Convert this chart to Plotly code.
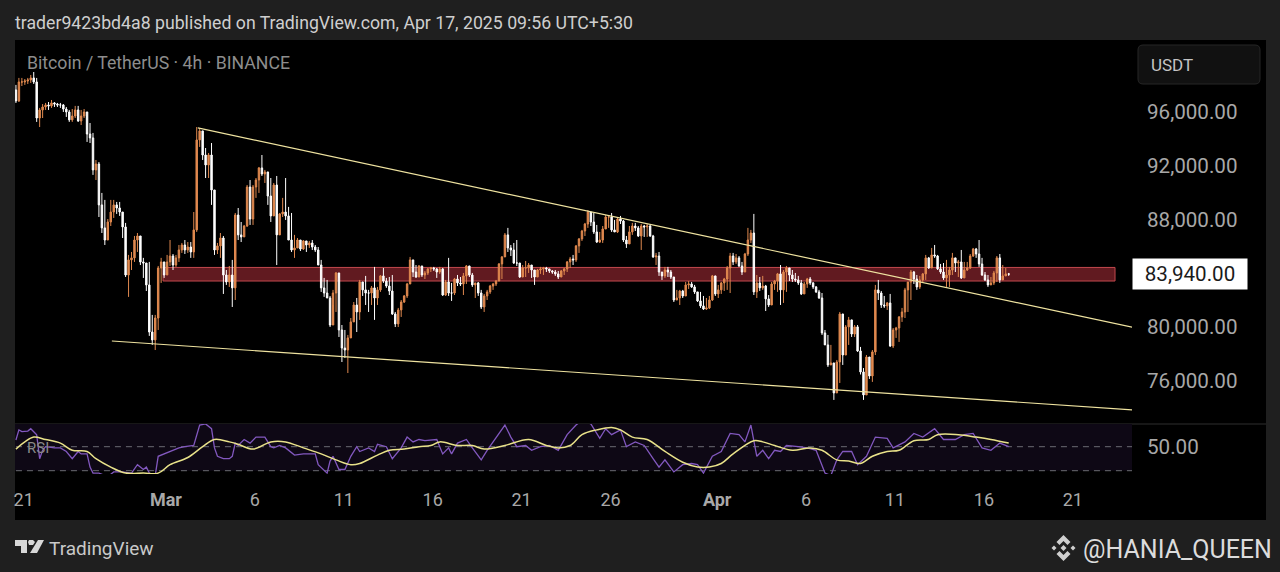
import pandas as pd
import plotly.graph_objects as go

W, H = 1280, 572

closes = [
    96820, 98230, 98230, 98300, 98380, 98530, 98230, 95550, 96150, 96370,
    96520, 96450, 96670, 96590, 96520, 96520, 96220, 96000, 95410, 95700,
    96150, 95330, 95700, 96000, 94360, 94070, 91690, 92130, 89090, 87380,
    86480, 87820, 88560, 89090, 88860, 88560, 87450, 83880, 85000, 85150,
    86480, 86780, 84850, 84770, 83140, 79640, 79050, 80680, 84400, 84850,
    83880, 84850, 85290, 84620, 85150, 85740, 86110, 85740,
    85960, 85590, 87230, 93920,
    94590, 92800, 92060, 92800, 90200, 85740, 86040, 86630, 83880, 83360,
    83880, 82920, 88340, 86860, 86710, 87520, 90420, 88040, 90420, 90940,
    91840, 91390, 91540, 89750, 88270, 90570, 86860, 88420, 88560, 88270,
    86480, 85740, 85890, 86480, 85810, 86410, 86110, 86260, 85960, 85740,
    84620, 82920, 82540, 82170, 80160, 82540, 84030, 79790, 78450, 78300,
    79200, 80390, 81650, 81130, 83360, 82770, 82540, 82540, 82920, 82170, 82770, 83810,
    83430, 83060, 82690, 80980, 80240, 81280, 81870, 82320, 83210, 85000,
    84100, 83730, 84550, 83880, 84030, 84330, 84400, 84330, 84100, 84330,
    82390, 83360, 82540, 82540, 83580, 83290, 83210, 83810, 84550, 83880,
    83140, 83290, 82540, 81500, 82320, 82620, 83060, 83210, 83430, 84700,
    85220, 86860, 85890, 85740, 84770, 84770, 83730, 84400, 84400, 84620,
    84250, 83730, 84250, 84330, 84400, 84330, 84180, 84100, 83960, 83730, 84180,
    84330, 84850, 85070, 85000, 86040, 86560, 87150, 87670, 88560, 87820,
    87080, 86330, 86480, 87300, 88190, 88190, 87230, 87080, 88040, 87890,
    86480, 86190, 87080, 87520, 87380, 86780, 87520, 87450, 87520, 86780,
    85220, 85290, 84100, 83810, 84250, 84100, 83730, 82020, 82170, 82690,
    82320, 83140, 83210, 82990, 82620, 81950, 81580, 81350, 81430, 82020,
    83810, 82470, 82770, 83290, 83580, 84400, 85290, 84850, 85150, 84550,
    84100, 85440, 86480, 87000, 82620, 83290, 82920, 83060, 82100, 81650,
    83210, 83430, 83960, 82770, 84100, 84400, 83880, 83580, 83510, 83290,
    82470, 83210, 83580, 83290, 82990, 82620, 82170, 79570, 78680, 77190,
    77340, 75110, 77410, 80980, 77930, 80020, 80540, 79490, 80020, 78230, 76670,
    74960, 77780, 76370, 78160, 82770, 82540, 81650, 81580, 81800, 78600,
    79790, 79940, 80760, 81130, 82770, 83360, 84100, 83580, 82990, 83510,
    83960, 85150, 84400, 85370, 85290, 84330, 84100, 83660, 83880, 84250,
    85150, 84770, 84850, 83660, 84250, 84400, 85290, 85810, 85440, 84700,
    83880, 83510, 83140, 83290, 84030, 85150, 83510, 83810, 83960, 83940,
]
highs = [
    98010, 98530, 98530, 98450, 98530, 98750, 98970, 98530, 96300, 96590,
    96670, 96740, 96890, 96740, 96670, 96670, 96590, 96370, 96150, 96220,
    96450, 96450, 96150, 96220, 96000, 95180, 94440, 92430, 92280, 89980,
    89460, 88040, 89460, 89460, 89310, 89310, 88560, 87750, 85370, 85590,
    86780, 87000, 86780, 85150, 84770, 84850, 80910, 80910, 84550, 85150,
    84850, 85370, 86480, 85440, 85370, 86110, 86260, 86480,
    86330, 86330, 88560, 94880,
    94810, 94440, 93320, 92950, 93690, 90200, 86260, 87000, 86780, 84250,
    84550, 85000, 88490, 88860, 87820, 87600, 90570, 90940, 90570, 91090,
    91910, 92800, 91690, 91460, 91090, 90720, 91240, 88490, 89610, 91090,
    88940, 88490, 86860, 86630, 86480, 86480, 86410, 86410, 86480, 86110,
    85960, 85000, 83660, 83510, 82320, 82770, 84100, 83660, 80160, 79790,
    79420, 80680, 81870, 82170, 83510, 83360, 83810, 82770, 83060, 84480, 82990, 83880,
    84400, 83660, 83730, 83880, 81130, 81430, 82020, 82390, 83290, 85220,
    84850, 84620, 84620, 84550, 84180, 84400, 84480, 84480, 84400, 84480,
    84400, 83510, 85150, 83290, 83660, 83880, 83730, 84030, 84620, 84480,
    84030, 83290, 83360, 82770, 82470, 82770, 83140, 83290, 83510, 84770,
    85290, 87000, 87380, 86110, 86260, 86480, 84770, 84620, 84920, 84770,
    84550, 84100, 84330, 84480, 84480, 84480, 84330, 84250, 84250, 84180, 84250,
    84400, 84920, 85220, 85370, 86110, 86630, 87230, 87750, 88710, 88490,
    88490, 87600, 87080, 87520, 88340, 88270, 88490, 87970, 88190, 88270,
    87970, 86780, 87520, 87750, 87750, 87520, 87670, 87600, 87670, 87600,
    86860, 85520, 85590, 84100, 84480, 84480, 84250, 83730, 82770, 82770,
    82770, 83360, 83430, 83360, 83140, 82620, 82620, 82320, 82170, 82320,
    83880, 83660, 83140, 83360, 83660, 84550, 85520, 85520, 85440, 85290,
    84850, 85520, 87380, 87230, 88420, 83880, 83730, 83810, 83140, 82390,
    83360, 83510, 84030, 84620, 84250, 84550, 84400, 84250, 84030, 83810,
    83510, 83360, 83660, 83730, 83360, 83060, 82770, 82540, 79790, 79420,
    78680, 77340, 77560, 81130, 79790, 80160, 80760, 80460, 80160, 80160, 78530,
    76960, 77930, 77780, 78300, 83140, 83510, 82690, 82320, 81870, 82470,
    79940, 80020, 80830, 81430, 82920, 83360, 84250, 84180, 83880, 83810,
    84030, 85370, 85220, 85890, 86110, 85370, 84700, 84770, 85000, 84480,
    85520, 85000, 85000, 85740, 84850, 84850, 85440, 85890, 85890, 86480,
    85150, 84100, 83880, 83730, 84180, 85290, 85440, 84620, 84400, 84030,
]
lows = [
    96670, 96740, 97930, 98010, 98080, 98160, 98080, 95260, 94880, 95550,
    96150, 96150, 96300, 96370, 96370, 96300, 96000, 95630, 95260, 95260,
    95550, 95260, 95030, 95550, 93770, 93690, 91320, 90940, 88190, 87000,
    86110, 86630, 87520, 88120, 88420, 88270, 86630, 83730, 82250, 84250,
    84850, 85590, 84620, 83660, 82690, 79350, 78680, 78300, 79790, 83290,
    83660, 84100, 84550, 84250, 84480, 84850, 85520, 85440,
    85520, 85150, 85150, 87080,
    93400, 92430, 91090, 91090, 89090, 85370, 85440, 85150, 82470, 83140,
    82990, 81500, 82020, 86480, 86330, 86710, 87450, 87600, 87600, 89610,
    89980, 91240, 90720, 89090, 87820, 88340, 84620, 86860, 88190, 87970,
    86480, 85590, 85150, 85890, 85660, 85740, 85590, 85890, 85740, 85590,
    84620, 82620, 82250, 82170, 80010, 81650, 81130, 79270, 77410, 77710,
    76590, 79200, 80540, 79640, 80540, 82320, 81650, 81130, 81650, 80540, 81650, 82620,
    83290, 82920, 82390, 80910, 80010, 80010, 80760, 81800, 82170, 83290,
    83730, 83660, 83730, 83730, 83580, 83880, 84100, 84180, 83660, 83960,
    82320, 82320, 82320, 81950, 82390, 83060, 83060, 82390, 83210, 83730,
    82990, 82170, 82320, 81350, 81130, 82020, 82470, 82770, 83060, 83430,
    83580, 85220, 85590, 85290, 84700, 84550, 83660, 83880, 83730, 84030,
    83660, 83140, 83730, 83960, 83880, 84100, 84030, 83960, 83810, 83580, 83730,
    83880, 84100, 84400, 84620, 84850, 85520, 86410, 86780, 87380, 87520,
    86930, 86260, 86260, 86260, 87380, 87380, 87080, 87080, 87000, 87670,
    86330, 85890, 86480, 86860, 87150, 86710, 85740, 86710, 86710, 86710,
    85150, 84620, 83810, 83510, 83660, 83730, 83580, 81870, 82020, 81650,
    82170, 82470, 82840, 82920, 82470, 81870, 81430, 81280, 81280, 81350,
    81950, 82320, 82170, 82470, 82690, 82770, 82540, 84620, 84700, 84480,
    83880, 84250, 85290, 86260, 82390, 82170, 82690, 82770, 81200, 81500,
    81650, 82770, 82620, 81650, 81800, 82620, 83430, 83360, 83360, 83140,
    82390, 82470, 82920, 83140, 82840, 82540, 82100, 79420, 78680, 77040,
    77190, 74590, 75110, 75850, 77190, 77930, 78680, 79270, 79270, 78160, 76480,
    74590, 74960, 76150, 75930, 77930, 82020, 81430, 81430, 81280, 78530,
    78450, 79200, 78900, 80390, 80680, 81130, 82020, 83210, 82770, 82840,
    83290, 83510, 84330, 84850, 85150, 84250, 83960, 83510, 82990, 82990,
    83880, 84100, 83730, 83580, 83730, 84180, 84330, 85220, 85150, 84480,
    83810, 83430, 82990, 83140, 83140, 83360, 83290, 83730, 83810, 83810,
]
first_open = 97640

rsi_bars = [
    0, 1, 2, 4, 5, 7, 8, 9, 10, 13, 15, 17, 19, 21, 22, 24, 25, 26, 28, 31, 33, 36, 39, 41, 43,
    44, 45, 47, 48, 50, 52, 55, 57, 60, 62, 64, 66, 67, 68, 70, 72, 73, 74, 75, 77, 79, 81, 84,
    86, 87, 89, 91, 94, 97, 101, 102, 105, 106, 107, 109, 111, 113, 115, 116, 119, 121, 122, 125,
    127, 130, 132, 134, 136, 138, 142, 144, 146, 147, 149, 152, 154, 157, 159, 162, 165, 167, 169,
    172, 174, 177, 180, 183, 186, 189, 191, 194, 197, 199, 201, 204, 206, 209, 212, 215, 217, 219,
    222, 225, 228, 230, 232, 235, 238, 241, 244, 246, 248, 250, 252, 254, 256, 258, 260, 264, 267,
    270, 273, 275, 277, 279, 282, 284, 287, 290, 294, 296, 300, 303, 306, 310, 313, 317, 320, 323,
    326, 329, 332, 335,
]
rsi_values = [
    55.6, 64, 62.5, 63, 65, 60, 40, 47, 50, 49, 49, 46, 40, 46, 44, 44, 33, 28, 28, 25, 29, 29, 28, 35, 31,
    33, 28, 26, 42, 44, 46, 49, 50, 51, 68, 69, 65, 49, 42, 40, 40, 42, 53, 51, 56, 53, 58, 58,
    50, 49, 51, 49, 43, 44, 44, 35, 28, 38, 42, 31, 31, 42, 50, 46, 49, 46, 52, 50,
    40, 49, 58, 54, 56, 55, 56, 44, 49, 44, 53, 56, 49, 39, 47, 58, 68, 58, 50,
    51, 47, 50, 51, 47, 60, 68, 72, 69, 57, 65, 60, 64, 50, 54, 51, 40, 33, 39,
    29, 35, 36, 35, 28, 42, 46, 61, 60, 54, 68, 42, 47, 40, 47, 46, 51, 50, 49,
    47, 28, 26, 39, 46, 46, 35, 42, 58, 57, 49, 54, 61, 58, 65, 56, 56, 60, 61,
    49, 47, 53, 50,
]
ma_bars = [
    0, 3, 6, 10, 15, 19, 24, 27, 32, 37, 43, 48, 52, 58, 63, 67, 72, 75, 80, 86, 91, 97, 103, 108,
    113, 116, 122, 126, 131, 136, 140, 143, 149, 154, 158, 165, 173, 179, 183, 187, 191, 196, 201,
    204, 208, 213, 219, 225, 230, 234, 238, 242, 249, 252, 256, 262, 268, 272, 277, 281, 285, 289,
    294, 298, 303, 308, 311, 318, 324, 329, 335,
]
ma_values = [
    48, 54, 58, 56, 53, 47, 46, 40, 33, 28, 28, 28, 35, 41, 50, 56, 54, 52, 48, 54, 54, 49, 44, 39,
    35, 36, 43, 47, 48, 50, 51, 54, 51, 51, 48, 51, 56, 51, 49, 51, 60, 64, 66,
    64, 58, 56, 46, 37, 33, 33, 36, 44, 55, 54, 51, 47, 49, 47, 39, 38, 36, 42,
    46, 47, 55, 56, 60, 60, 58, 56, 53,
]
rsi_guides = [50, 30]
rsi_band = [30, 70]

upper_line_dates = ["2025-03-02 19:00", "2025-04-24 08:00"]
upper_line_prices = [94810, 80000]
lower_line_dates = ["2025-02-25 23:00", "2025-04-24 09:00"]
lower_line_prices = [78970, 73850]
zone_dates = ["2025-02-28 20:00", "2025-04-23 09:00"]
zone_prices = [84440, 83430]

price_ticks = [96000, 92000, 88000, 80000, 76000]
date_ticks = ["2025-02-21", "2025-03-01", "2025-03-06", "2025-03-11", "2025-03-16", "2025-03-21",
              "2025-03-26", "2025-04-01", "2025-04-06", "2025-04-11", "2025-04-16", "2025-04-21"]
date_labels = ["21", "<b>Mar</b>", "6", "11", "16", "21", "26", "<b>Apr</b>", "6", "11", "16", "21"]
last_price = 83940

assert len(closes) == len(highs) == len(lows), (len(closes), len(highs), len(lows))
dates = pd.date_range(end="2025-04-17 09:30", periods=len(closes), freq="4h")
opens = [first_open] + closes[:-1]


def fx(px):
    return px / W


def fy(py):
    return 1 - py / H


def poly(points):
    return "M" + " L".join(f"{fx(x):.5f},{fy(y):.5f}" for x, y in points) + " Z"


def label(x, y, text, size, color, anchor="left"):
    fig.add_annotation(x=fx(x - 2), y=fy(y), xref="paper", yref="paper", text=text, showarrow=False,
                       xanchor=anchor, yanchor="middle", font=dict(family="Roboto", size=size, color=color))


fig = go.Figure()
fig.add_trace(go.Candlestick(
    x=dates, open=opens, high=highs, low=lows, close=closes,
    increasing=dict(line=dict(color="#e0894f", width=1), fillcolor="#e0894f"),
    decreasing=dict(line=dict(color="#ffffff", width=1), fillcolor="#ffffff"),
    whiskerwidth=0, showlegend=False, hoverinfo="skip",
))
for xs, ys in [(upper_line_dates, upper_line_prices), (lower_line_dates, lower_line_prices)]:
    fig.add_trace(go.Scatter(x=xs, y=ys, mode="lines", line=dict(color="#efe3a0", width=1.2),
                             showlegend=False, hoverinfo="skip"))

for level in rsi_guides:
    fig.add_trace(go.Scatter(x=[dates[0], "2025-04-24 08:00"], y=[level, level], yaxis="y2", mode="lines",
                             line=dict(color="#6b6b72", width=1, dash="6px,5px"), showlegend=False, hoverinfo="skip"))
fig.add_trace(go.Scatter(x=[dates[i] for i in rsi_bars], y=rsi_values, yaxis="y2", mode="lines",
                         line=dict(color="#8258bf", width=1.3), showlegend=False, hoverinfo="skip"))
fig.add_trace(go.Scatter(x=[dates[i] for i in ma_bars], y=ma_values, yaxis="y2", mode="lines",
                         line=dict(color="#e9e28a", width=1.5, shape="spline"), showlegend=False, hoverinfo="skip"))

# frame, zone and RSI band sit under the candles
fig.add_shape(type="rect", xref="paper", yref="paper", x0=fx(15), x1=fx(1266), y0=fy(520), y1=fy(40),
              fillcolor="#000000", line_width=0, layer="below")
fig.add_shape(type="rect", xref="x", yref="y2", x0="2025-02-20 12:00", x1="2025-04-24 08:00",
              y0=rsi_band[0], y1=rsi_band[1], fillcolor="#0e0815", line_width=0, layer="below")
fig.add_shape(type="rect", xref="x", yref="y", x0=zone_dates[0], x1=zone_dates[1], y0=zone_prices[1], y1=zone_prices[0],
              fillcolor="#611a20", line=dict(color="#c2494d", width=1), layer="below")
fig.add_shape(type="line", xref="paper", yref="paper", x0=fx(15), x1=fx(1266), y0=fy(424), y1=fy(424),
              line=dict(color="#2e2e2e", width=1), layer="below")

# USDT box
r = 5
box = [(1138, 45), (1260, 84)]
fig.add_shape(type="path", xref="paper", yref="paper", fillcolor="#111111", line=dict(color="#262626", width=1),
              path=(f"M{fx(box[0][0] + r)},{fy(box[0][1])} L{fx(box[1][0] - r)},{fy(box[0][1])} "
                    f"Q{fx(box[1][0])},{fy(box[0][1])} {fx(box[1][0])},{fy(box[0][1] + r)} "
                    f"L{fx(box[1][0])},{fy(box[1][1] - r)} Q{fx(box[1][0])},{fy(box[1][1])} {fx(box[1][0] - r)},{fy(box[1][1])} "
                    f"L{fx(box[0][0] + r)},{fy(box[1][1])} Q{fx(box[0][0])},{fy(box[1][1])} {fx(box[0][0])},{fy(box[1][1] - r)} "
                    f"L{fx(box[0][0])},{fy(box[0][1] + r)} Q{fx(box[0][0])},{fy(box[0][1])} {fx(box[0][0] + r)},{fy(box[0][1])} Z"))

# TradingView mark
for pts in [[(15, 540), (27, 540), (27, 553), (21, 553), (21, 546), (15, 546)],
            [(38, 540), (44, 540), (37, 553), (30, 553)],
            [(29, 540), (33, 540), (35, 542), (33, 545), (29, 545), (28, 542)]]:
    fig.add_shape(type="path", xref="paper", yref="paper", path=poly(pts), fillcolor="#d8d8d8", line_width=0)

# Binance mark
bcx, bcy = 1063.5, 548
for pts in [[(bcx, bcy - 13), (bcx + 7, bcy - 6), (bcx + 4, bcy - 3), (bcx, bcy - 7), (bcx - 4, bcy - 3), (bcx - 7, bcy - 6)],
            [(bcx, bcy + 13), (bcx + 7, bcy + 6), (bcx + 4, bcy + 3), (bcx, bcy + 7), (bcx - 4, bcy + 3), (bcx - 7, bcy + 6)],
            [(bcx, bcy - 3), (bcx + 3, bcy), (bcx, bcy + 3), (bcx - 3, bcy)],
            [(bcx - 9.5, bcy - 2.5), (bcx - 7, bcy), (bcx - 9.5, bcy + 2.5), (bcx - 12, bcy)],
            [(bcx + 9.5, bcy - 2.5), (bcx + 12, bcy), (bcx + 9.5, bcy + 2.5), (bcx + 7, bcy)]]:
    fig.add_shape(type="path", xref="paper", yref="paper", path=poly(pts), fillcolor="#cfcfcf", line_width=0)

label(15, 23, "trader9423bd4a8 published on TradingView.com, Apr 17, 2025 09:56 UTC+5:30", 17.7, "#cfcfcf")
label(27, 63, "Bitcoin / TetherUS · 4h · BINANCE", 17.7, "#8d8d8d")
label(27, 448, "RSI", 15, "#8a8a8a")
label(1151, 65, "USDT", 17, "#c4c4c4")
label(49, 548, "TradingView", 19, "#c9c9c9")
label(1083, 549, "@HANIA_QUEEN", 25, "#dcdcdc")

fig.add_annotation(x=fx(1190), y=last_price, xref="paper", yref="y", xanchor="center", text=f"{last_price:,.2f}", showarrow=False,
                   font=dict(family="Roboto", size=20.6, color="#1a1a1a"), bgcolor="#ffffff", width=112, height=28)

fig.update_layout(
    width=W, height=H, autosize=False, margin=dict(l=0, r=0, t=0, b=0),
    paper_bgcolor="#1f1f1f", plot_bgcolor="rgba(0,0,0,0)",
    font=dict(family="Roboto", color="#a8a8a8"),
    xaxis=dict(domain=[fx(15), fx(1132)], anchor="y2", type="date", range=["2025-02-20 12:14", "2025-04-24 07:55"],
               tickmode="array", tickvals=date_ticks, ticktext=date_labels, tickfont=dict(size=18, color="#a8a8a8"),
               ticklabelstandoff=13, showgrid=False, zeroline=False, showline=False, ticks="",
               rangeslider=dict(visible=False)),
    yaxis=dict(domain=[fy(424), fy(40)], anchor="x", side="right", range=[72800, 101350],
               tickmode="array", tickvals=price_ticks, tickformat=",.2f", tickfont=dict(size=20.6, color="#a8a8a8"),
               ticklabelstandoff=14, showgrid=False, zeroline=False, showline=False, ticks=""),
    yaxis2=dict(domain=[fy(474), fy(424)], anchor="x", side="right", range=[27.25, 68.9],
                tickmode="array", tickvals=[50], tickformat=".2f", tickfont=dict(size=20.6, color="#a8a8a8"),
                ticklabelstandoff=14, showgrid=False, zeroline=False, showline=False, ticks=""),
)

fig.write_html("out.html", config=dict(displayModeBar=False),
               post_script="document.body.style.margin='0';document.body.style.overflow='hidden';")
